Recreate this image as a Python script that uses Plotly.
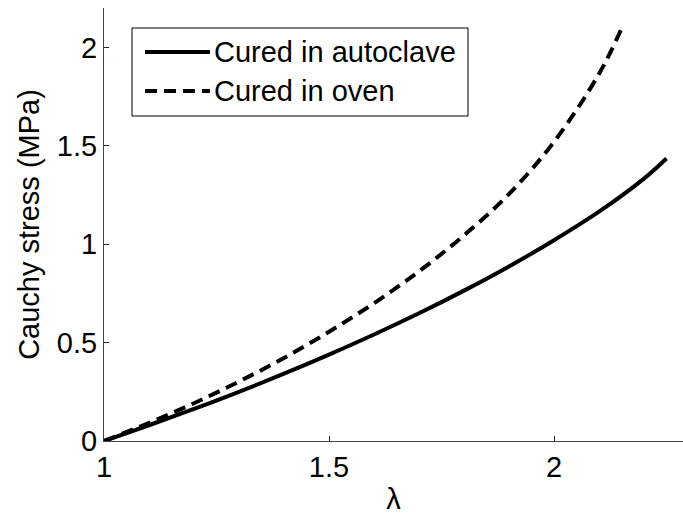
import plotly.graph_objects as go

# Stretch ratio (lambda) and Cauchy stress (MPa) for the two curing routes
stretch_autoclave = [1.0, 1.1, 1.2, 1.3, 1.4, 1.5, 1.6, 1.7, 1.8, 1.9, 2.0, 2.1, 2.2, 2.25]
stress_autoclave = [0.0, 0.080, 0.163, 0.250, 0.342, 0.439, 0.541, 0.649, 0.764, 0.887, 1.020, 1.165, 1.333, 1.435]

stretch_oven = [1.0, 1.1, 1.2, 1.3, 1.4, 1.5, 1.6, 1.7, 1.8, 1.9, 2.0, 2.1, 2.15]
stress_oven = [0.0, 0.092, 0.192, 0.302, 0.422, 0.555, 0.700, 0.862, 1.045, 1.255, 1.520, 1.865, 2.095]

series_names = ["Cured in autoclave", "Cured in oven"]
x_ticks = [1, 1.5, 2]
y_ticks = [0, 0.5, 1, 1.5, 2]

FONT = "Liberation Sans, Arial, Helvetica, sans-serif"
FS = 29
W, H = 683, 518
ML, MR, MT, MB = 104, 0, 8, 77
DASH = "12px,7px"

fig = go.Figure()
fig.add_trace(go.Scatter(x=stretch_autoclave, y=stress_autoclave, mode="lines",
                         line=dict(color="black", width=4, shape="spline"),
                         name=series_names[0], showlegend=False))
fig.add_trace(go.Scatter(x=stretch_oven, y=stress_oven, mode="lines",
                         line=dict(color="black", width=4, dash=DASH, shape="spline"),
                         name=series_names[1], showlegend=False))

# legend box, positioned in pixels and converted to paper coordinates
pw, ph = W - ML - MR, H - MT - MB
def px(x):
    return (x - ML) / pw
def py(y):
    return 1 - (y - MT) / ph

box = dict(x0=132, x1=468, y0=28, y1=116)
rows = [52, 91]
fig.add_shape(type="rect", xref="paper", yref="paper",
              x0=px(box["x0"]), x1=px(box["x1"]), y0=py(box["y1"]), y1=py(box["y0"]),
              line=dict(color="black", width=1), fillcolor="white", layer="above")
for name, yy, d in zip(series_names, rows, ["solid", DASH]):
    fig.add_shape(type="line", xref="paper", yref="paper",
                  x0=px(145), x1=px(210), y0=py(yy), y1=py(yy),
                  line=dict(color="black", width=4, dash=d), layer="above")
    fig.add_annotation(xref="paper", yref="paper", x=px(212), y=py(yy),
                       text=name, showarrow=False, xanchor="left", yanchor="middle",
                       font=dict(family=FONT, size=FS, color="black"))

axis_common = dict(showgrid=False, zeroline=False, showline=True, linecolor="#444",
                   linewidth=1, ticks="inside", ticklen=5, tickcolor="#222",
                   tickfont=dict(family=FONT, size=FS, color="black"), mirror=False)

fig.update_xaxes(range=[1, 1 + (W - ML) / 450], tickvals=x_ticks,
                 ticktext=[f"{v:g}" for v in x_ticks],
                 title=dict(text="λ", font=dict(family=FONT, size=FS, color="black"), standoff=6),
                 **axis_common)
fig.update_yaxes(range=[0, 2.2], tickvals=y_ticks,
                 ticktext=[f"{v:g}" for v in y_ticks],
                 title=dict(text="Cauchy stress (MPa)", font=dict(family=FONT, size=FS, color="black"), standoff=8),
                 **axis_common)

fig.update_layout(width=W, height=H, margin=dict(l=ML, r=MR, t=MT, b=MB),
                  paper_bgcolor="white", plot_bgcolor="white",
                  font=dict(family=FONT, color="black"))

fig.write_html("out.html")
